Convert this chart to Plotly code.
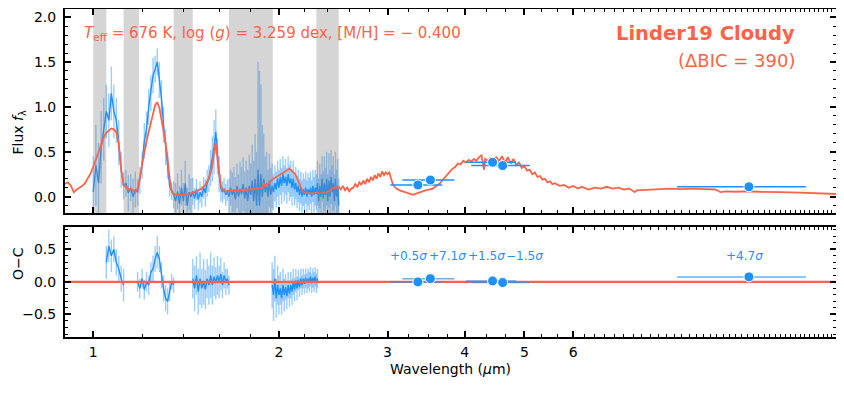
import math
import plotly.graph_objects as go

# ============================
# DATA
# ============================
# model spectrum (Linder19 Cloudy), wavelength in micron
model_wl = [
    0.90, 0.91, 0.92, 0.93, 0.94, 0.95, 0.96, 0.97, 0.98, 0.99,
    1.00, 1.01, 1.02, 1.03, 1.04, 1.05, 1.06, 1.07, 1.08, 1.09,
    1.10, 1.11, 1.12, 1.13, 1.14, 1.15, 1.16, 1.17, 1.18, 1.19,
    1.20, 1.21, 1.22, 1.23, 1.24, 1.25, 1.26, 1.27, 1.28, 1.29,
    1.30, 1.31, 1.32, 1.33, 1.34, 1.35, 1.36, 1.37, 1.38, 1.39,
    1.40, 1.41, 1.42, 1.43, 1.44, 1.45, 1.46, 1.47, 1.48, 1.49,
    1.50, 1.51, 1.52, 1.53, 1.54, 1.55, 1.56, 1.57, 1.58, 1.59,
    1.60, 1.61, 1.62, 1.63, 1.64, 1.65, 1.66, 1.67, 1.68, 1.69,
    1.70, 1.71, 1.72, 1.73, 1.74, 1.75, 1.76, 1.77, 1.78, 1.79,
    1.80, 1.81, 1.82, 1.83, 1.84, 1.85, 1.86, 1.87, 1.88, 1.89,
    1.90, 1.91, 1.92, 1.93, 1.94, 1.95, 1.96, 1.97, 1.98, 1.99,
    2.00, 2.01, 2.02, 2.03, 2.04, 2.05, 2.06, 2.07, 2.08, 2.09,
    2.10, 2.11, 2.12, 2.13, 2.14, 2.15, 2.16, 2.17, 2.18, 2.19,
    2.20, 2.21, 2.22, 2.23, 2.24, 2.25, 2.26, 2.27, 2.28, 2.29,
    2.30, 2.31, 2.32, 2.33, 2.34, 2.35, 2.36, 2.37, 2.38, 2.39,
    2.40, 2.41, 2.42, 2.43, 2.44, 2.45, 2.46, 2.47, 2.48, 2.49,
    2.50, 2.52, 2.54, 2.56, 2.58, 2.60, 2.62, 2.64, 2.66, 2.68,
    2.70, 2.72, 2.74, 2.76, 2.78, 2.80, 2.82, 2.84, 2.86, 2.88,
    2.90, 2.92, 2.94, 2.96, 2.98, 3.00, 3.02, 3.04, 3.06, 3.08,
    3.10, 3.14, 3.18, 3.22, 3.26, 3.30, 3.34, 3.38, 3.42, 3.46,
    3.50, 3.55, 3.60, 3.65, 3.70, 3.74, 3.78, 3.82, 3.86, 3.90,
    3.94, 3.98, 4.02, 4.06, 4.10, 4.14, 4.18, 4.22, 4.26, 4.28,
    4.30, 4.32, 4.36, 4.40, 4.45, 4.50, 4.55, 4.60, 4.65, 4.70,
    4.75, 4.80, 4.85, 4.90, 4.95, 5.00, 5.05, 5.10, 5.15, 5.20,
    5.25, 5.30, 5.35, 5.40, 5.45, 5.50, 5.55, 5.60, 5.70, 5.80,
    5.90, 6.00, 6.10, 6.20, 6.35, 6.50, 6.65, 6.80, 6.95, 7.10,
    7.25, 7.40, 7.55, 7.60, 7.80, 8.00, 8.30, 8.60, 9.00, 9.40,
    9.80, 10.20, 10.40, 10.60, 11.00, 11.50, 12.00, 12.50, 13.00, 14.00,
    15.00, 16.00,
]
model_flux = [
    0.14, 0.16, 0.12, 0.05, 0.08, 0.10, 0.12, 0.15, 0.20, 0.26,
    0.33, 0.42, 0.50, 0.58, 0.66, 0.71, 0.74, 0.76, 0.75, 0.72,
    0.58, 0.30, 0.13, 0.10, 0.08, 0.09, 0.07, 0.05, 0.09, 0.20,
    0.36, 0.50, 0.62, 0.72, 0.82, 0.93, 1.02, 1.05, 0.99, 0.86,
    0.74, 0.60, 0.42, 0.20, 0.07, 0.03, 0.02, 0.02, 0.015, 0.02,
    0.02, 0.02, 0.025, 0.03, 0.035, 0.04, 0.05, 0.06, 0.07, 0.08,
    0.09, 0.11, 0.13, 0.17, 0.21, 0.27, 0.35, 0.50, 0.60, 0.42,
    0.26, 0.12, 0.08, 0.06, 0.055, 0.06, 0.06, 0.07, 0.06, 0.07,
    0.065, 0.07, 0.06, 0.075, 0.07, 0.075, 0.07, 0.08, 0.075, 0.08,
    0.08, 0.085, 0.08, 0.09, 0.085, 0.09, 0.10, 0.09, 0.10, 0.15,
    0.11, 0.13, 0.14, 0.16, 0.17, 0.19, 0.20, 0.21, 0.22, 0.23,
    0.24, 0.25, 0.26, 0.27, 0.28, 0.29, 0.30, 0.31, 0.31, 0.30,
    0.29, 0.28, 0.26, 0.24, 0.21, 0.18, 0.14, 0.10, 0.07, 0.05,
    0.045, 0.04, 0.04, 0.035, 0.04, 0.035, 0.04, 0.04, 0.035, 0.04,
    0.035, 0.04, 0.035, 0.04, 0.035, 0.04, 0.035, 0.04, 0.04, 0.045,
    0.05, 0.06, 0.07, 0.08, 0.09, 0.10, 0.095, 0.11, 0.10, 0.105,
    0.11, 0.08, 0.12, 0.07, 0.10, 0.06, 0.09, 0.10, 0.14, 0.11,
    0.16, 0.13, 0.18, 0.14, 0.20, 0.16, 0.22, 0.18, 0.24, 0.20,
    0.26, 0.22, 0.28, 0.24, 0.27, 0.25, 0.27, 0.20, 0.14, 0.11,
    0.09, 0.07, 0.055, 0.045, 0.03, 0.02, 0.035, 0.05, 0.06, 0.07,
    0.08, 0.09, 0.12, 0.15, 0.20, 0.24, 0.27, 0.31, 0.33, 0.37,
    0.36, 0.40, 0.38, 0.41, 0.39, 0.42, 0.40, 0.44, 0.46, 0.38,
    0.30, 0.42, 0.40, 0.43, 0.39, 0.44, 0.40, 0.45, 0.38, 0.44,
    0.37, 0.42, 0.35, 0.38, 0.32, 0.34, 0.29, 0.30, 0.25, 0.27,
    0.22, 0.23, 0.19, 0.20, 0.16, 0.17, 0.14, 0.15, 0.12, 0.13,
    0.10, 0.12, 0.09, 0.11, 0.08, 0.10, 0.09, 0.11, 0.09, 0.10,
    0.08, 0.09, 0.05, 0.07, 0.075, 0.08, 0.085, 0.09, 0.085, 0.09,
    0.085, 0.08, 0.05, 0.06, 0.055, 0.06, 0.055, 0.055, 0.05, 0.045,
    0.035, 0.03,
]

# observed spectrum
spec_wl = [
    1.00, 1.01, 1.02, 1.03, 1.04, 1.05, 1.06, 1.07, 1.08, 1.09,
    1.10, 1.11, 1.12, 1.13, 1.14, 1.15, 1.16, 1.17, 1.18, 1.19,
    1.20, 1.21, 1.22, 1.23, 1.24, 1.25, 1.26, 1.27, 1.28, 1.29,
    1.30, 1.31, 1.32, 1.33, 1.34, 1.35, 1.36, 1.37, 1.38, 1.39,
    1.40, 1.41, 1.42, 1.43, 1.44, 1.45, 1.46, 1.47, 1.48, 1.49,
    1.50, 1.51, 1.52, 1.53, 1.54, 1.55, 1.56, 1.57, 1.58, 1.59,
    1.60, 1.61, 1.62, 1.63, 1.64, 1.65, 1.66, 1.67, 1.68, 1.69,
    1.70, 1.71, 1.72, 1.73, 1.74, 1.75, 1.76, 1.77, 1.78, 1.79,
    1.80, 1.81, 1.82, 1.83, 1.84, 1.85, 1.86, 1.87, 1.88, 1.89,
    1.90, 1.91, 1.92, 1.93, 1.94, 1.95, 1.96, 1.97, 1.98, 1.99,
    2.00, 2.01, 2.02, 2.03, 2.04, 2.05, 2.06, 2.07, 2.08, 2.09,
    2.10, 2.11, 2.12, 2.13, 2.14, 2.15, 2.16, 2.17, 2.18, 2.19,
    2.20, 2.21, 2.22, 2.23, 2.24, 2.25, 2.26, 2.27, 2.28, 2.29,
    2.30, 2.31, 2.32, 2.33, 2.34, 2.35, 2.36, 2.37, 2.38, 2.39,
    2.40, 2.41, 2.42, 2.43, 2.44, 2.45, 2.46, 2.47, 2.48, 2.49,
    2.50,
]
spec_flux = [
    0.05, 0.35, 0.15, 0.55, 0.75, 0.95, 0.85, 1.15, 0.95, 0.85,
    0.60, 0.30, 0.12, 0.15, 0.04, 0.10, 0.00, 0.08, 0.05, 0.18,
    0.35, 0.62, 0.75, 1.00, 1.15, 1.35, 1.42, 1.50, 1.30, 1.10,
    0.80, 0.55, 0.35, 0.12, 0.06, 0.02, -0.05, 0.06, -0.08, 0.10,
    -0.05, 0.15, -0.10, 0.05, 0.00, 0.06, -0.02, 0.08, -0.03, 0.05,
    0.00, 0.10, 0.04, 0.15, 0.20, 0.32, 0.42, 0.55, 0.72, 0.45,
    0.25, 0.10, 0.05, 0.09, 0.02, 0.07, 0.00, 0.10, 0.02, 0.08,
    -0.03, 0.12, 0.00, 0.09, 0.03, 0.14, -0.02, 0.10, -0.05, 0.12,
    0.02, 0.18, -0.05, 0.20, -0.10, 0.30, -0.10, 0.25, 0.00, 0.20,
    0.05, 0.15, 0.00, 0.18, 0.02, 0.12, 0.05, 0.15, 0.08, 0.20,
    0.10, 0.22, 0.12, 0.25, 0.15, 0.22, 0.12, 0.25, 0.15, 0.20,
    0.10, 0.20, 0.08, 0.15, 0.05, 0.12, 0.02, 0.10, 0.00, 0.08,
    0.02, 0.10, 0.00, 0.08, 0.03, 0.10, 0.00, 0.12, 0.02, 0.10,
    0.05, 0.15, -0.05, 0.12, 0.00, 0.20, -0.02, 0.15, 0.02, 0.20,
    -0.05, 0.18, 0.00, 0.22, 0.05, 0.15, -0.05, 0.20, 0.00, 0.12,
    -0.10,
]
spec_err = [
    0.40, 0.45, 0.45, 0.40, 0.35, 0.30, 0.30, 0.30, 0.30, 0.25,
    0.25, 0.20, 0.15, 0.15, 0.20, 0.15, 0.20, 0.20, 0.15, 0.15,
    0.15, 0.20, 0.20, 0.20, 0.20, 0.20, 0.15, 0.15, 0.20, 0.20,
    0.20, 0.20, 0.15, 0.12, 0.10, 0.15, 0.20, 0.20, 0.20, 0.20,
    0.20, 0.25, 0.20, 0.20, 0.20, 0.15, 0.12, 0.12, 0.12, 0.12,
    0.12, 0.12, 0.15, 0.15, 0.15, 0.20, 0.25, 0.30, 0.25, 0.20,
    0.20, 0.15, 0.12, 0.12, 0.12, 0.12, 0.20, 0.20, 0.25, 0.25,
    0.25, 0.25, 0.25, 0.30, 0.30, 0.30, 0.30, 0.30, 0.35, 0.35,
    0.35, 0.40, 0.45, 0.50, 0.60, 1.20, 1.50, 1.00, 0.80, 0.50,
    0.40, 0.35, 0.30, 0.30, 0.30, 0.25, 0.20, 0.20, 0.20, 0.20,
    0.20, 0.20, 0.20, 0.20, 0.20, 0.20, 0.20, 0.20, 0.20, 0.20,
    0.20, 0.20, 0.18, 0.18, 0.18, 0.18, 0.18, 0.18, 0.18, 0.18,
    0.18, 0.18, 0.18, 0.18, 0.18, 0.18, 0.18, 0.18, 0.20, 0.20,
    0.20, 0.25, 0.25, 0.25, 0.25, 0.25, 0.30, 0.30, 0.30, 0.30,
    0.30, 0.30, 0.30, 0.30, 0.30, 0.30, 0.30, 0.30, 0.30, 0.30,
    0.30,
]

# residuals (observed - model) outside the masked bands
resid_wl = [
    1.05, 1.06, 1.07, 1.08, 1.09, 1.10, 1.11, 1.12,
    1.18, 1.19, 1.20, 1.21, 1.22, 1.23, 1.24, 1.25, 1.26, 1.27,
    1.28, 1.29, 1.30, 1.31, 1.32, 1.33, 1.34, 1.35,
    1.45, 1.46, 1.47, 1.48, 1.49, 1.50, 1.51, 1.52, 1.53, 1.54, 1.55,
    1.56, 1.57, 1.58, 1.59, 1.60, 1.61, 1.62, 1.63, 1.64, 1.65, 1.66,
    1.95, 1.96, 1.97, 1.98, 1.99, 2.00, 2.01, 2.02, 2.03, 2.04, 2.05,
    2.06, 2.07, 2.08, 2.09, 2.10, 2.11, 2.12, 2.13, 2.14, 2.15, 2.16,
    2.17, 2.18, 2.19, 2.20, 2.21, 2.22, 2.23, 2.24, 2.25, 2.26, 2.27,
    2.28, 2.29, 2.30, 2.31,
]
resid_val = [
    0.30, 0.55, 0.40, 0.50, 0.30, 0.20, 0.05, -0.05,
    0.00, -0.10, 0.05, -0.12, 0.00, -0.05, 0.15, 0.20, 0.35, 0.45,
    0.35, 0.10, -0.10, -0.25, -0.30, -0.15, 0.00, -0.05,
    0.05, -0.10, 0.10, -0.15, 0.05, -0.10, 0.00, -0.12, 0.05, -0.05, 0.10,
    -0.05, 0.08, -0.02, 0.10, 0.00, 0.12, -0.05, 0.10, 0.00, 0.05, -0.05,
    -0.05, -0.20, 0.05, -0.25, -0.05, -0.20, -0.10, -0.25, -0.05, -0.20, -0.08,
    -0.22, -0.05, -0.18, -0.05, -0.15, 0.00, -0.12, 0.02, -0.10, 0.03, -0.08,
    0.05, -0.05, 0.05, -0.03, 0.06, -0.02, 0.05, 0.00, 0.08, -0.02, 0.06,
    0.00, 0.08, -0.02, 0.05,
]
resid_err = [
    0.25, 0.25, 0.25, 0.20, 0.20, 0.20, 0.20, 0.25,
    0.15, 0.15, 0.15, 0.15, 0.15, 0.15, 0.15, 0.20, 0.20, 0.25,
    0.20, 0.20, 0.20, 0.20, 0.20, 0.15, 0.12, 0.12,
    0.30, 0.35, 0.30, 0.35, 0.40, 0.30, 0.35, 0.30, 0.30, 0.30, 0.35,
    0.30, 0.30, 0.25, 0.30, 0.25, 0.25, 0.20, 0.20, 0.20, 0.15, 0.15,
    0.35, 0.40, 0.35, 0.30, 0.30, 0.30, 0.25, 0.25, 0.25, 0.25, 0.20,
    0.20, 0.20, 0.20, 0.20, 0.20, 0.20, 0.18, 0.18, 0.18, 0.15, 0.15,
    0.15, 0.15, 0.15, 0.15, 0.15, 0.15, 0.15, 0.15, 0.15, 0.15, 0.15,
    0.15, 0.15, 0.15, 0.15,
]

# masked (telluric) bands
mask_lo = [1.00, 1.12, 1.35, 1.66, 2.30]
mask_hi = [1.05, 1.186, 1.45, 1.955, 2.50]

# photometry (W1, IRAC1, IRAC2, W2, W3)
phot_wl = [3.36, 3.52, 4.44, 4.61, 11.56]
phot_lo = [3.03, 3.17, 4.02, 4.10, 8.84]
phot_hi = [3.68, 3.85, 4.85, 5.10, 14.30]
phot_flux = [0.13, 0.185, 0.383, 0.346, 0.11]
phot_resid = [0.00, 0.05, 0.015, -0.01, 0.077]
sigma_text = ["+0.5", "+7.1", "+1.5", "\u22121.5", "+4.7"]
sigma_wl = [3.243, 3.746, 4.335, 5.00, 11.36]

x_ticks = [1, 2, 3, 4, 5, 6]
x_minor = [1.2, 1.4, 1.6, 1.8, 2.2, 2.4, 2.6, 2.8, 3.25, 3.5, 3.75,
           4.333, 4.667, 5.333, 5.667,
           6.25, 6.5, 6.75, 7, 7.25, 7.5, 7.75, 8, 8.25, 8.5, 8.75, 9,
           9.25, 9.5, 9.75, 10, 10.25, 10.5, 10.75, 11, 11.25, 11.5, 11.75,
           12, 12.25, 12.5, 12.75, 13, 13.25, 13.5, 13.75, 14, 14.25, 14.5,
           14.75, 15, 15.25, 15.5, 15.75]

TOMATO = "#ff6347"
BLUE = "#1e90ff"
FONT = "DejaVu Sans"


def with_gaps(xs, ys, es, step=0.015):
    # break the line wherever wavelength jumps across a masked band
    gx, gy, ge = [], [], []
    for i, x in enumerate(xs):
        if i > 0 and x - xs[i - 1] > step:
            gx.append(None)
            gy.append(None)
            ge.append(None)
        gx.append(x)
        gy.append(ys[i])
        ge.append(es[i])
    return gx, gy, ge


fig = go.Figure()

# ============================
# TOP PANEL
# ============================
fig.add_trace(go.Scatter(
    x=spec_wl, y=spec_flux, mode="lines", xaxis="x2", yaxis="y2",
    line=dict(color=BLUE, width=1.4),
    error_y=dict(type="data", array=spec_err, color="rgba(30,144,255,0.45)",
                 thickness=1.4, width=0),
    showlegend=False,
))

# gray bands (between data and model)
bx, by = [], []
for lo, hi in zip(mask_lo, mask_hi):
    bx += [lo, hi, hi, lo, lo, None]
    by += [-1, -1, 3, 3, -1, None]
fig.add_trace(go.Scatter(
    x=bx, y=by, mode="lines", fill="toself", xaxis="x2", yaxis="y2",
    fillcolor="rgba(128,128,128,0.33)", line=dict(width=0),
    showlegend=False, hoverinfo="skip",
))

fig.add_trace(go.Scatter(
    x=model_wl, y=model_flux, mode="lines", xaxis="x2", yaxis="y2",
    line=dict(color=TOMATO, width=1.8), showlegend=False,
))

err_plus = [h - w for h, w in zip(phot_hi, phot_wl)]
err_minus = [w - l for w, l in zip(phot_wl, phot_lo)]
fig.add_trace(go.Scatter(
    x=phot_wl, y=phot_flux, mode="markers", xaxis="x2", yaxis="y2",
    marker=dict(color=BLUE, size=10, line=dict(color="white", width=1)),
    error_x=dict(type="data", array=err_plus, arrayminus=err_minus,
                 color=BLUE, thickness=1.5, width=0),
    showlegend=False,
))

# ============================
# BOTTOM PANEL
# ============================
rx, ry, re = with_gaps(resid_wl, resid_val, resid_err)
fig.add_trace(go.Scatter(
    x=rx, y=ry, mode="lines", xaxis="x", yaxis="y",
    line=dict(color=BLUE, width=1.4),
    error_y=dict(type="data", array=re, color="rgba(30,144,255,0.45)",
                 thickness=1.4, width=0),
    showlegend=False,
))
fig.add_trace(go.Scatter(
    x=[0.8, 20], y=[0, 0], mode="lines", xaxis="x", yaxis="y",
    line=dict(color=TOMATO, width=2.2), showlegend=False,
))
fig.add_trace(go.Scatter(
    x=phot_wl, y=phot_resid, mode="markers", xaxis="x", yaxis="y",
    marker=dict(color=BLUE, size=10, line=dict(color="white", width=1)),
    error_x=dict(type="data", array=err_plus, arrayminus=err_minus,
                 color="rgba(30,144,255,0.7)", thickness=1.5, width=0),
    showlegend=False,
))

for txt, wl in zip(sigma_text, sigma_wl):
    fig.add_annotation(x=math.log10(wl), y=0.4, xref="x", yref="y",
                       text=txt + "<i>\u03c3</i>", showarrow=False,
                       font=dict(family=FONT, size=12, color=BLUE))

# ============================
# TEXT
# ============================
fig.add_annotation(
    x=0.0217, y=0.881, xref="x2 domain", yref="y2 domain",
    xanchor="left", yanchor="middle", showarrow=False,
    text="<i>T</i><sub>eff</sub> = 676 K, log (<i>g</i>) = 3.259 dex, [M/H] = \u2212 0.400",
    font=dict(family=FONT, size=15, color=TOMATO))
fig.add_annotation(
    x=0.949, y=0.882, xref="x2 domain", yref="y2 domain",
    xanchor="right", yanchor="middle", showarrow=False,
    text="<b>Linder19 Cloudy</b>",
    font=dict(family=FONT, size=19.5, color=TOMATO))
fig.add_annotation(
    x=0.949, y=0.747, xref="x2 domain", yref="y2 domain",
    xanchor="right", yanchor="middle", showarrow=False,
    text="(\u0394BIC = 390)",
    font=dict(family=FONT, size=18, color=TOMATO))

fig.add_annotation(x=-0.074, y=0.701, xref="paper", yref="paper",
                   text="Flux <i>f</i><sub>\u03bb</sub>", textangle=-90,
                   showarrow=False, font=dict(family=FONT, size=14, color="black"))
fig.add_annotation(x=-0.074, y=0.169, xref="paper", yref="paper",
                   text="O\u2212C", textangle=-90,
                   showarrow=False, font=dict(family=FONT, size=14, color="black"))
fig.add_annotation(x=0.5, y=-0.0976, xref="paper", yref="paper",
                   text="Wavelength (<i>\u03bc</i>m)", yanchor="middle",
                   showarrow=False, font=dict(family=FONT, size=14, color="black"))

# ============================
# AXES
# ============================
xrange = [-0.04576, 1.20412]
common_x = dict(
    type="log", range=xrange, showline=True, linewidth=2, linecolor="black",
    mirror="allticks", ticks="inside", ticklen=6, tickwidth=1.5, tickcolor="black",
    tickmode="array", tickvals=x_ticks, ticktext=[str(t) for t in x_ticks],
    minor=dict(tickmode="array", tickvals=x_minor, ticks="inside", ticklen=3,
               tickwidth=1, tickcolor="black"),
    showgrid=False, zeroline=False, automargin=False,
    tickfont=dict(family=FONT, size=14, color="black"),
)
common_y = dict(
    showline=True, linewidth=2, linecolor="black", mirror="allticks",
    ticks="inside", ticklen=6, tickwidth=1.5, tickcolor="black",
    minor=dict(dtick=0.1, ticks="inside", ticklen=3, tickwidth=1, tickcolor="black"),
    showgrid=False, zeroline=False, dtick=0.5, tickformat=".1f", automargin=False,
    tickfont=dict(family=FONT, size=14, color="black"),
    ticklabelstandoff=4,
)

# the page adds an 8 px body margin, so the figure is 8 px smaller here
fig.update_layout(
    width=836, height=386,
    margin=dict(l=57, r=8, t=1, b=57),
    plot_bgcolor="white", paper_bgcolor="white",
    xaxis=dict(common_x, anchor="y", domain=[0, 1], ticklabelstandoff=1),
    xaxis2=dict(common_x, anchor="y2", domain=[0, 1], matches="x", showticklabels=False),
    yaxis=dict(common_y, domain=[0, 0.336], range=[-0.846, 0.846], anchor="x"),
    yaxis2=dict(common_y, domain=[0.378, 1], range=[-0.182, 2.09], anchor="x2"),
)

fig.write_html("out.html")
